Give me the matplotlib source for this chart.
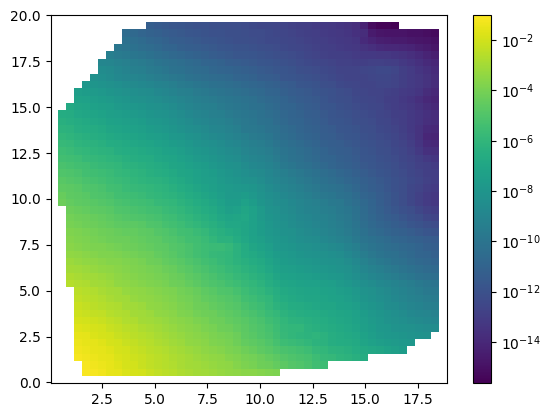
import numpy as np
import matplotlib
matplotlib.use('Agg')
import matplotlib.pyplot as plt
from matplotlib.colors import LogNorm

# log10 of the value per cell, bottom row first. Row j starts at column first_col[j]
first_col = {1: 4, 2: 4, 3: 3, 4: 3, 5: 3, 6: 3, 7: 3, 8: 3, 9: 3, 10: 3, 11: 3, 12: 3,
             13: 2, 14: 2, 15: 2, 16: 2, 17: 2, 18: 2, 19: 2, 20: 2, 21: 2, 22: 2, 23: 2,
             24: 1, 25: 1, 26: 1, 27: 1, 28: 1, 29: 1, 30: 1, 31: 1, 32: 1, 33: 1, 34: 1, 35: 1, 36: 1,
             37: 2, 38: 3, 39: 3, 40: 4, 41: 5, 42: 6, 43: 6, 44: 7, 45: 8, 46: 9, 47: 9, 48: 12}

rows = {
    1: [-1.1,-1.2,-1.3,-1.5,-1.6,-1.8,-1.9,-2.0,-2.2,-2.4,-2.5,-2.6,-2.8,-2.9,-3.0,-3.1,-3.2,-3.3,-3.4,-3.5,-3.6,-3.6,-3.7,-3.8,-3.9],
    2: [-1.2,-1.3,-1.4,-1.5,-1.7,-1.9,-2.0,-2.2,-2.4,-2.5,-2.6,-2.7,-2.9,-3.0,-3.1,-3.2,-3.3,-3.4,-3.5,-3.7,-3.9,-4.0,-4.2,-4.3,-4.5,-4.7,-4.9,-5.0,-5.2,-5.5,-5.6],
    3: [-1.2,-1.3,-1.4,-1.5,-1.6,-1.8,-1.9,-2.1,-2.2,-2.4,-2.5,-2.6,-2.8,-2.9,-3.0,-3.2,-3.3,-3.4,-3.5,-3.7,-3.8,-4.0,-4.1,-4.3,-4.5,-4.7,-4.9,-5.1,-5.2,-5.3,-5.6,-5.8,-5.9,-6.1,-6.2,-6.4,-6.6],
    4: [-1.3,-1.4,-1.5,-1.6,-1.7,-1.9,-2.0,-2.2,-2.3,-2.5,-2.6,-2.7,-2.9,-3.0,-3.2,-3.3,-3.5,-3.6,-3.7,-3.9,-4.0,-4.2,-4.4,-4.6,-4.8,-5.0,-5.2,-5.3,-5.4,-5.6,-5.9,-6.0,-6.2,-6.3,-6.4,-6.6,-6.8,-6.9,-7.0,-7.2,-7.4,-7.6],
    5: [-1.4,-1.5,-1.6,-1.7,-1.9,-2.0,-2.2,-2.3,-2.5,-2.6,-2.8,-2.9,-3.1,-3.2,-3.4,-3.5,-3.6,-3.8,-3.9,-4.0,-4.2,-4.5,-4.6,-4.8,-5.0,-5.3,-5.6,-5.7,-5.8,-6.0,-6.2,-6.3,-6.5,-6.6,-6.7,-6.8,-7.1,-7.3,-7.5,-7.6,-7.7,-7.8,-7.9],
    6: [-1.5,-1.6,-1.8,-1.9,-2.0,-2.2,-2.3,-2.5,-2.6,-2.7,-2.9,-3.0,-3.2,-3.3,-3.5,-3.6,-3.7,-3.9,-4.0,-4.1,-4.3,-4.6,-4.8,-5.0,-5.2,-5.5,-5.8,-6.0,-6.1,-6.2,-6.1,-6.3,-6.5,-6.7,-6.8,-6.9,-7.2,-7.5,-7.7,-7.8,-7.9,-8.0,-8.1,-8.2,-8.3],
    7: [-1.7,-1.8,-1.9,-2.0,-2.2,-2.3,-2.5,-2.6,-2.8,-2.9,-3.0,-3.2,-3.3,-3.5,-3.6,-3.7,-3.9,-4.0,-4.2,-4.3,-4.5,-4.7,-4.9,-5.1,-5.3,-5.6,-5.9,-6.0,-6.0,-6.3,-6.4,-6.5,-6.7,-6.8,-6.9,-7.1,-7.4,-7.6,-7.8,-7.9,-8.1,-8.2,-8.3,-8.4,-8.5,-8.6],
    8: [-1.9,-2.0,-2.1,-2.2,-2.4,-2.5,-2.7,-2.8,-3.0,-3.1,-3.2,-3.3,-3.5,-3.6,-3.7,-3.9,-4.0,-4.2,-4.3,-4.5,-4.6,-4.8,-5.0,-5.2,-5.5,-5.7,-6.0,-6.2,-6.3,-6.4,-6.5,-6.6,-6.8,-6.9,-7.0,-7.2,-7.5,-7.7,-7.9,-8.1,-8.3,-8.4,-8.6,-8.7,-8.8,-8.9],
    9: [-2.1,-2.2,-2.3,-2.4,-2.6,-2.7,-2.8,-3.0,-3.1,-3.2,-3.4,-3.5,-3.6,-3.8,-3.9,-4.1,-4.2,-4.3,-4.5,-4.6,-4.8,-5.0,-5.2,-5.4,-5.7,-5.9,-6.2,-6.4,-6.5,-6.6,-6.7,-6.8,-6.9,-7.0,-7.1,-7.3,-7.6,-7.8,-8.0,-8.2,-8.4,-8.6,-8.8,-8.9,-9.0,-9.2],
    10: [-2.2,-2.3,-2.5,-2.6,-2.7,-2.8,-3.0,-3.1,-3.2,-3.4,-3.5,-3.6,-3.7,-3.9,-4.0,-4.2,-4.3,-4.5,-4.6,-4.8,-4.9,-5.2,-5.4,-5.6,-5.9,-6.2,-6.4,-6.6,-6.7,-6.8,-6.9,-7.0,-7.0,-7.2,-7.3,-7.5,-7.8,-8.0,-8.2,-8.5,-8.6,-8.8,-9.0,-9.1,-9.3,-9.4],
    11: [-2.4,-2.5,-2.6,-2.7,-2.9,-3.0,-3.1,-3.3,-3.4,-3.5,-3.6,-3.7,-3.8,-4.0,-4.1,-4.3,-4.5,-4.6,-4.8,-4.9,-5.1,-5.4,-5.6,-5.8,-6.0,-6.4,-6.6,-6.8,-6.9,-7.0,-7.0,-7.1,-7.2,-7.3,-7.5,-7.7,-8.0,-8.2,-8.4,-8.6,-8.8,-9.0,-9.2,-9.3,-9.5,-9.6],
    12: [-2.5,-2.6,-2.7,-2.9,-3.0,-3.1,-3.3,-3.4,-3.5,-3.6,-3.7,-3.8,-3.9,-4.1,-4.2,-4.4,-4.6,-4.8,-5.0,-5.1,-5.3,-5.6,-5.8,-6.0,-6.3,-6.5,-6.8,-6.9,-7.0,-7.1,-7.1,-7.2,-7.3,-7.5,-7.6,-7.8,-8.1,-8.3,-8.5,-8.7,-8.9,-9.1,-9.3,-9.5,-9.7,-9.8],
    13: [-2.6,-2.7,-2.8,-3.0,-3.1,-3.2,-3.4,-3.5,-3.6,-3.7,-3.8,-3.9,-4.0,-4.2,-4.3,-4.5,-4.7,-4.9,-5.1,-5.2,-5.4,-5.6,-5.8,-6.0,-6.2,-6.5,-6.8,-7.0,-7.1,-7.2,-7.3,-7.3,-7.4,-7.5,-7.7,-7.9,-8.1,-8.4,-8.6,-8.8,-8.9,-9.1,-9.3,-9.5,-9.7,-9.9,-10.0],
    14: [-2.8,-2.9,-3.0,-3.1,-3.2,-3.3,-3.5,-3.6,-3.7,-3.8,-3.9,-4.0,-4.1,-4.3,-4.4,-4.6,-4.8,-5.0,-5.2,-5.4,-5.6,-5.8,-6.0,-6.2,-6.4,-6.7,-7.0,-7.2,-7.3,-7.4,-7.5,-7.6,-7.7,-7.8,-7.9,-8.1,-8.4,-8.7,-8.9,-9.1,-9.3,-9.5,-9.7,-9.9,-10.1,-10.3,-10.4],
    15: [-3.0,-3.1,-3.2,-3.3,-3.4,-3.5,-3.6,-3.7,-3.8,-3.9,-4.0,-4.1,-4.3,-4.4,-4.6,-4.8,-5.0,-5.2,-5.4,-5.6,-5.8,-6.0,-6.2,-6.4,-6.6,-6.9,-7.2,-7.4,-7.5,-7.6,-7.7,-7.8,-7.9,-8.0,-8.1,-8.3,-8.6,-8.9,-9.2,-9.4,-9.6,-9.8,-10.0,-10.2,-10.4,-10.6,-10.7],
    16: [-3.2,-3.3,-3.4,-3.5,-3.6,-3.7,-3.7,-3.8,-3.9,-4.0,-4.2,-4.3,-4.5,-4.6,-4.8,-5.0,-5.2,-5.4,-5.6,-5.8,-6.0,-6.2,-6.4,-6.6,-6.8,-7.1,-7.4,-7.6,-7.7,-7.8,-7.9,-8.0,-8.1,-8.2,-8.3,-8.5,-8.8,-9.2,-9.5,-9.7,-9.9,-10.1,-10.3,-10.5,-10.7,-10.8,-11.0],
    17: [-3.4,-3.5,-3.6,-3.7,-3.8,-3.8,-3.9,-4.0,-4.1,-4.2,-4.3,-4.5,-4.6,-4.8,-5.0,-5.2,-5.4,-5.6,-5.8,-5.9,-6.0,-6.3,-6.6,-6.8,-7.0,-7.3,-7.6,-7.7,-7.8,-8.0,-8.1,-8.2,-8.3,-8.4,-8.5,-8.8,-9.1,-9.5,-9.8,-10.0,-10.2,-10.3,-10.5,-10.7,-10.9,-11.0,-11.2],
    18: [-3.6,-3.7,-3.8,-3.9,-3.9,-4.0,-4.1,-4.2,-4.3,-4.4,-4.5,-4.6,-4.7,-4.9,-5.0,-5.2,-5.4,-5.6,-5.7,-5.7,-5.9,-6.3,-6.7,-7.0,-7.2,-7.5,-7.8,-7.9,-8.0,-8.2,-8.3,-8.4,-8.5,-8.7,-8.8,-9.1,-9.4,-9.8,-10.0,-10.2,-10.4,-10.5,-10.7,-10.8,-11.0,-11.2,-11.3],
    19: [-3.7,-3.8,-3.9,-4.0,-4.1,-4.2,-4.3,-4.3,-4.4,-4.5,-4.6,-4.7,-4.9,-5.0,-5.2,-5.4,-5.5,-5.7,-6.0,-6.3,-6.3,-6.6,-6.9,-7.2,-7.4,-7.7,-7.9,-8.0,-8.2,-8.4,-8.5,-8.6,-8.8,-9.0,-9.2,-9.4,-9.7,-10.0,-10.2,-10.4,-10.6,-10.8,-10.9,-11.1,-11.2,-11.4,-11.5],
    20: [-3.8,-3.9,-4.0,-4.1,-4.2,-4.3,-4.4,-4.5,-4.5,-4.6,-4.7,-4.9,-5.0,-5.2,-5.4,-5.5,-5.7,-5.9,-6.2,-6.4,-6.6,-6.8,-7.0,-7.3,-7.6,-7.8,-8.0,-8.2,-8.3,-8.5,-8.7,-8.8,-9.0,-9.2,-9.4,-9.6,-9.9,-10.2,-10.5,-10.7,-10.9,-11.1,-11.2,-11.4,-11.6,-11.8,-11.9],
    21: [-4.0,-4.1,-4.2,-4.3,-4.4,-4.5,-4.6,-4.7,-4.7,-4.8,-5.0,-5.1,-5.3,-5.4,-5.6,-5.8,-6.0,-6.2,-6.4,-6.7,-6.9,-6.9,-7.0,-7.3,-7.6,-7.9,-8.1,-8.3,-8.5,-8.7,-8.8,-9.0,-9.1,-9.3,-9.5,-9.7,-10.0,-10.4,-10.7,-10.9,-11.1,-11.3,-11.5,-11.7,-11.9,-12.1,-12.3],
    22: [-4.1,-4.2,-4.3,-4.4,-4.5,-4.6,-4.8,-4.9,-5.0,-5.1,-5.2,-5.3,-5.5,-5.6,-5.8,-6.0,-6.2,-6.4,-6.6,-6.9,-7.1,-7.0,-6.9,-7.3,-7.7,-8.0,-8.2,-8.4,-8.6,-8.8,-8.9,-9.1,-9.2,-9.4,-9.6,-9.8,-10.1,-10.5,-10.8,-11.1,-11.3,-11.5,-11.7,-12.0,-12.2,-12.5,-12.7],
    23: [-4.3,-4.4,-4.5,-4.6,-4.7,-4.8,-5.0,-5.1,-5.2,-5.3,-5.4,-5.5,-5.7,-5.8,-6.0,-6.2,-6.4,-6.6,-6.8,-7.1,-7.4,-7.3,-7.0,-7.3,-7.7,-8.1,-8.3,-8.5,-8.7,-8.9,-9.1,-9.2,-9.4,-9.5,-9.7,-9.9,-10.2,-10.6,-10.9,-11.2,-11.5,-11.7,-12.0,-12.2,-12.5,-12.8,-13.0],
    24: [-4.3,-4.5,-4.6,-4.7,-4.8,-4.9,-5.0,-5.2,-5.3,-5.4,-5.5,-5.6,-5.8,-5.9,-6.0,-6.2,-6.4,-6.6,-6.8,-7.0,-7.3,-7.6,-7.6,-7.3,-7.6,-8.0,-8.3,-8.5,-8.6,-8.8,-9.0,-9.2,-9.3,-9.5,-9.7,-9.8,-10.1,-10.4,-10.7,-11.0,-11.3,-11.6,-11.9,-12.2,-12.5,-12.8,-13.1,-13.3],
    25: [-4.4,-4.6,-4.7,-4.8,-5.0,-5.1,-5.2,-5.4,-5.5,-5.6,-5.7,-5.9,-6.0,-6.1,-6.2,-6.4,-6.6,-6.8,-7.0,-7.2,-7.5,-7.7,-7.7,-7.6,-7.8,-8.1,-8.4,-8.6,-8.8,-9.0,-9.2,-9.4,-9.6,-9.8,-9.9,-10.1,-10.3,-10.6,-10.9,-11.1,-11.4,-11.6,-11.9,-12.2,-12.5,-12.8,-13.1,-13.3],
    26: [-4.6,-4.7,-4.8,-5.0,-5.1,-5.2,-5.4,-5.5,-5.7,-5.8,-5.9,-6.0,-6.1,-6.2,-6.4,-6.6,-6.8,-7.0,-7.2,-7.4,-7.6,-7.7,-7.8,-7.9,-8.0,-8.3,-8.6,-8.8,-9.0,-9.2,-9.4,-9.6,-9.8,-10.0,-10.1,-10.3,-10.5,-10.8,-11.1,-11.3,-11.5,-11.7,-12.0,-12.2,-12.5,-12.7,-13.0,-13.1],
    27: [-4.8,-4.9,-5.0,-5.2,-5.3,-5.4,-5.6,-5.7,-5.8,-6.0,-6.1,-6.2,-6.3,-6.4,-6.6,-6.8,-7.0,-7.2,-7.4,-7.5,-7.7,-7.9,-8.0,-8.2,-8.3,-8.5,-8.8,-9.0,-9.2,-9.4,-9.6,-9.8,-10.0,-10.2,-10.4,-10.6,-10.8,-11.0,-11.2,-11.4,-11.6,-11.8,-12.0,-12.2,-12.4,-12.6,-12.8,-13.0],
    28: [-5.0,-5.1,-5.2,-5.4,-5.5,-5.6,-5.7,-5.9,-6.0,-6.1,-6.2,-6.4,-6.5,-6.6,-6.8,-7.0,-7.1,-7.3,-7.5,-7.6,-7.8,-8.0,-8.2,-8.4,-8.6,-8.7,-8.9,-9.2,-9.4,-9.6,-9.8,-10.0,-10.2,-10.4,-10.6,-10.8,-11.0,-11.2,-11.4,-11.6,-11.8,-11.9,-12.1,-12.3,-12.5,-12.7,-12.9,-13.0],
    29: [-5.2,-5.3,-5.4,-5.5,-5.7,-5.8,-5.9,-6.0,-6.2,-6.3,-6.4,-6.5,-6.7,-6.8,-7.0,-7.1,-7.3,-7.5,-7.6,-7.8,-8.0,-8.2,-8.3,-8.6,-8.8,-8.9,-9.1,-9.4,-9.7,-9.9,-10.1,-10.3,-10.5,-10.7,-10.9,-11.1,-11.2,-11.4,-11.6,-11.7,-11.9,-12.0,-12.2,-12.4,-12.6,-12.8,-12.9,-13.1],
    30: [-5.4,-5.5,-5.6,-5.8,-5.9,-6.0,-6.1,-6.2,-6.4,-6.5,-6.6,-6.7,-6.9,-7.0,-7.1,-7.3,-7.5,-7.7,-7.8,-8.0,-8.2,-8.4,-8.5,-8.8,-9.0,-9.1,-9.3,-9.6,-9.9,-10.1,-10.3,-10.5,-10.7,-10.9,-11.0,-11.2,-11.3,-11.5,-11.7,-11.8,-12.0,-12.1,-12.3,-12.5,-12.7,-12.9,-13.2,-13.4],
    31: [-5.6,-5.7,-5.9,-6.0,-6.1,-6.2,-6.3,-6.5,-6.6,-6.7,-6.8,-6.9,-7.0,-7.2,-7.3,-7.5,-7.7,-7.9,-8.0,-8.2,-8.4,-8.6,-8.7,-9.0,-9.2,-9.3,-9.5,-9.8,-10.0,-10.2,-10.4,-10.6,-10.8,-11.0,-11.2,-11.3,-11.4,-11.6,-11.8,-11.9,-12.1,-12.2,-12.4,-12.6,-12.8,-13.2,-13.6,-13.7],
    32: [-5.8,-5.9,-6.1,-6.2,-6.3,-6.4,-6.6,-6.7,-6.8,-6.9,-7.0,-7.1,-7.3,-7.4,-7.6,-7.7,-7.9,-8.1,-8.3,-8.4,-8.6,-8.8,-8.9,-9.2,-9.4,-9.5,-9.7,-10.0,-10.2,-10.4,-10.6,-10.8,-11.0,-11.2,-11.3,-11.4,-11.6,-11.7,-11.9,-12.0,-12.2,-12.3,-12.5,-12.7,-13.0,-13.4,-13.9,-14.0],
    33: [-6.0,-6.1,-6.3,-6.4,-6.5,-6.6,-6.8,-6.9,-7.0,-7.1,-7.2,-7.4,-7.5,-7.6,-7.8,-7.9,-8.1,-8.3,-8.5,-8.7,-8.8,-9.0,-9.2,-9.4,-9.6,-9.7,-9.9,-10.2,-10.4,-10.6,-10.8,-11.0,-11.1,-11.3,-11.4,-11.6,-11.7,-11.8,-12.0,-12.1,-12.3,-12.4,-12.6,-12.8,-13.1,-13.5,-14.1,-14.2],
    34: [-6.2,-6.3,-6.5,-6.6,-6.7,-6.8,-7.0,-7.1,-7.2,-7.3,-7.4,-7.6,-7.7,-7.8,-8.0,-8.2,-8.4,-8.5,-8.7,-8.9,-9.0,-9.2,-9.4,-9.7,-9.8,-9.9,-10.1,-10.3,-10.5,-10.7,-10.9,-11.1,-11.2,-11.4,-11.5,-11.7,-11.8,-11.9,-12.1,-12.2,-12.4,-12.5,-12.7,-12.9,-13.2,-13.5,-13.9,-14.0],
    35: [-6.4,-6.5,-6.7,-6.8,-6.9,-7.0,-7.2,-7.3,-7.4,-7.5,-7.6,-7.8,-7.9,-8.0,-8.2,-8.4,-8.6,-8.8,-8.9,-9.1,-9.2,-9.4,-9.6,-9.8,-9.9,-10.1,-10.2,-10.5,-10.7,-10.9,-11.0,-11.2,-11.3,-11.5,-11.7,-11.8,-11.9,-12.1,-12.2,-12.3,-12.5,-12.6,-12.8,-13.0,-13.2,-13.4,-13.7,-13.8],
    36: [-6.6,-6.7,-6.9,-7.0,-7.1,-7.2,-7.4,-7.5,-7.6,-7.7,-7.8,-8.0,-8.1,-8.2,-8.4,-8.6,-8.8,-9.0,-9.1,-9.3,-9.4,-9.6,-9.8,-9.9,-10.0,-10.2,-10.4,-10.6,-10.8,-11.0,-11.1,-11.3,-11.4,-11.6,-11.8,-11.9,-12.0,-12.2,-12.3,-12.4,-12.6,-12.7,-12.9,-13.0,-13.2,-13.4,-13.6,-13.8],
    37: [-6.8,-7.0,-7.1,-7.3,-7.4,-7.5,-7.7,-7.8,-7.9,-8.0,-8.2,-8.3,-8.4,-8.6,-8.8,-9.0,-9.2,-9.3,-9.4,-9.6,-9.8,-9.9,-10.0,-10.2,-10.3,-10.5,-10.7,-10.9,-11.0,-11.2,-11.4,-11.5,-11.7,-11.8,-12.0,-12.1,-12.3,-12.4,-12.5,-12.6,-12.8,-13.0,-13.1,-13.3,-13.5,-13.8,-14.0],
    38: [-7.2,-7.3,-7.5,-7.6,-7.7,-7.9,-8.0,-8.2,-8.3,-8.4,-8.5,-8.7,-8.8,-9.0,-9.2,-9.4,-9.5,-9.6,-9.8,-9.9,-10.0,-10.1,-10.3,-10.5,-10.7,-10.8,-11.0,-11.2,-11.4,-11.5,-11.6,-11.8,-12.0,-12.1,-12.2,-12.4,-12.5,-12.6,-12.7,-12.9,-13.0,-13.2,-13.4,-13.7,-14.0,-14.2],
    39: [-7.5,-7.6,-7.7,-7.8,-8.0,-8.1,-8.3,-8.4,-8.5,-8.6,-8.8,-8.9,-9.1,-9.3,-9.4,-9.6,-9.7,-9.9,-10.0,-10.1,-10.3,-10.4,-10.6,-10.7,-10.9,-11.0,-11.2,-11.4,-11.5,-11.6,-11.8,-11.9,-12.0,-12.2,-12.3,-12.5,-12.6,-12.7,-12.7,-12.8,-12.9,-13.1,-13.2,-13.4,-13.8,-14.0],
    40: [-7.9,-8.0,-8.1,-8.3,-8.4,-8.6,-8.7,-8.8,-8.9,-9.1,-9.2,-9.4,-9.6,-9.7,-9.9,-10.0,-10.2,-10.3,-10.4,-10.5,-10.7,-10.8,-10.9,-11.1,-11.2,-11.4,-11.5,-11.7,-11.8,-11.9,-12.1,-12.2,-12.4,-12.5,-12.6,-12.7,-12.7,-12.6,-12.6,-12.7,-12.9,-13.1,-13.3,-13.5,-13.8],
    41: [-8.3,-8.4,-8.6,-8.8,-8.9,-9.0,-9.1,-9.3,-9.5,-9.6,-9.8,-9.9,-10.1,-10.3,-10.4,-10.5,-10.6,-10.7,-10.9,-11.0,-11.1,-11.3,-11.4,-11.5,-11.7,-11.8,-11.9,-12.0,-12.1,-12.3,-12.4,-12.6,-12.7,-12.7,-12.7,-12.6,-12.5,-12.5,-12.7,-12.9,-13.1,-13.3,-13.5,-13.8],
    42: [-8.6,-8.7,-8.9,-9.1,-9.3,-9.4,-9.6,-9.7,-9.9,-10.1,-10.2,-10.4,-10.5,-10.6,-10.8,-10.9,-11.0,-11.1,-11.2,-11.3,-11.5,-11.6,-11.7,-11.8,-11.9,-12.1,-12.2,-12.3,-12.4,-12.5,-12.7,-12.7,-12.7,-12.6,-12.5,-12.4,-12.4,-12.6,-12.9,-13.1,-13.4,-13.6,-13.9],
    43: [-8.9,-9.0,-9.2,-9.3,-9.5,-9.6,-9.8,-10.0,-10.1,-10.3,-10.4,-10.6,-10.7,-10.9,-11.0,-11.1,-11.3,-11.4,-11.5,-11.6,-11.7,-11.8,-11.9,-12.0,-12.1,-12.3,-12.4,-12.5,-12.6,-12.7,-12.8,-12.8,-12.9,-12.9,-12.8,-12.8,-12.9,-13.0,-13.2,-13.4,-13.6,-13.9,-14.1],
    44: [-9.4,-9.6,-9.7,-9.9,-10.0,-10.2,-10.4,-10.5,-10.7,-10.8,-11.0,-11.1,-11.2,-11.4,-11.5,-11.6,-11.7,-11.7,-11.8,-11.9,-12.0,-12.1,-12.2,-12.3,-12.4,-12.6,-12.7,-12.8,-12.9,-12.9,-13.0,-13.1,-13.2,-13.2,-13.3,-13.3,-13.4,-13.5,-13.7,-13.9,-14.2,-14.4],
    45: [-9.9,-10.0,-10.2,-10.4,-10.5,-10.7,-10.9,-11.0,-11.2,-11.3,-11.4,-11.5,-11.6,-11.7,-11.8,-11.9,-11.9,-12.0,-12.1,-12.2,-12.3,-12.4,-12.5,-12.6,-12.7,-12.8,-12.9,-13.0,-13.1,-13.2,-13.3,-13.5,-13.7,-13.9,-14.0,-14.0,-14.1,-14.2,-14.4,-14.6,-14.8],
    46: [-10.2,-10.4,-10.6,-10.8,-10.9,-11.1,-11.3,-11.4,-11.5,-11.6,-11.7,-11.8,-11.9,-12.0,-12.1,-12.1,-12.2,-12.3,-12.4,-12.4,-12.5,-12.6,-12.7,-12.8,-12.9,-13.0,-13.1,-13.2,-13.3,-13.4,-13.9,-14.2,-14.4,-14.5,-14.6,-14.6,-14.7,-14.8,-14.9,-15.0],
    47: [-10.5,-10.7,-10.9,-11.1,-11.2,-11.4,-11.5,-11.6,-11.7,-11.8,-11.9,-12.0,-12.0,-12.1,-12.1,-12.2,-12.3,-12.3,-12.4,-12.5,-12.6,-12.7,-12.8,-12.9,-13.0,-13.1,-13.2,-13.3,-13.4,-13.6,-13.8,-14.6,-14.8,-14.9,-14.9,-14.9,-15.0,-15.0,-15.1,-15.2],
    48: [-11.3,-11.5,-11.6,-11.7,-11.8,-11.9,-12.0,-12.0,-12.1,-12.1,-12.2,-12.2,-12.3,-12.4,-12.5,-12.5,-12.6,-12.7,-12.8,-12.9,-13.0,-13.1,-13.2,-13.3,-13.4,-13.5,-13.7,-14.3,-15.2,-15.5,-15.5,-15.6],
}

x_edges = np.linspace(0.03, 18.9, 51)
y_edges = np.linspace(-0.05, 20.05, 51)
cbar_ticks = [1e-14, 1e-12, 1e-10, 1e-8, 1e-6, 1e-4, 1e-2]

grid = np.full((50, 50), np.nan)
for j, row in rows.items():
    grid[j, first_col[j]:first_col[j] + len(row)] = row
values = np.ma.masked_invalid(10.0 ** grid)

fig = plt.figure(figsize=(5.49, 4.17), dpi=100)
ax = fig.add_axes([50.5 / 549, 1 - 383.3 / 417, 396.5 / 549, 368.8 / 417])
cax = fig.add_axes([472.5 / 549, 1 - 383.3 / 417, 19 / 549, 368.8 / 417])

mesh = ax.pcolormesh(x_edges, y_edges, values, cmap='viridis',
                     norm=LogNorm(vmin=10 ** -15.65, vmax=10 ** -0.98))
ax.set_xlim(x_edges[0], x_edges[-1])
ax.set_ylim(y_edges[0], y_edges[-1])
ax.set_xticks([2.5, 5, 7.5, 10, 12.5, 15, 17.5])
ax.set_yticks([0, 2.5, 5, 7.5, 10, 12.5, 15, 17.5, 20])
ax.set_xticklabels(['2.5', '5.0', '7.5', '10.0', '12.5', '15.0', '17.5'])
ax.set_yticklabels(['0.0', '2.5', '5.0', '7.5', '10.0', '12.5', '15.0', '17.5', '20.0'])

cbar = fig.colorbar(mesh, cax=cax)
cbar.set_ticks(cbar_ticks)
cbar.ax.minorticks_off()

fig.savefig('out.png', dpi=100)
